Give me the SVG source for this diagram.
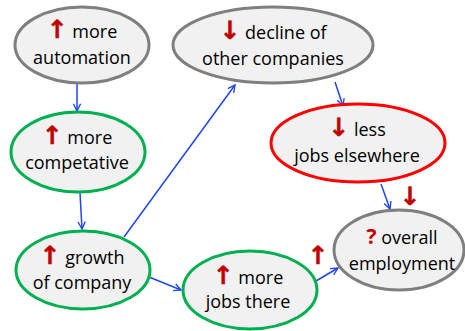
<svg xmlns="http://www.w3.org/2000/svg" width="465" height="331" viewBox="0 0 465 331">
<defs>
<style>
.n{fill:#f1f1f1;stroke-width:3}
.g{stroke:#7f7f7f}
.gr{stroke:#00b050}
.r{stroke:#ff0000}
.t{font-family:"Open Sans","Liberation Sans",sans-serif;font-size:18px;fill:#000;text-anchor:middle}
.a{font-family:"DejaVu Sans",sans-serif;font-weight:bold;fill:#c00000;stroke:#c00000;stroke-width:0.5;font-size:25px}
.q{font-family:"Open Sans","Liberation Sans",sans-serif;font-weight:bold;fill:#c00000;font-size:21px}
.c{stroke:#1f45f5;stroke-width:1.5;fill:none;marker-end:url(#m)}
</style>
<marker id="m" viewBox="0 0 10 10" refX="9" refY="5" markerWidth="9" markerHeight="9" markerUnits="userSpaceOnUse" orient="auto">
<path d="M1,1 L9,5 L1,9" fill="none" stroke="#1f45f5" stroke-width="1.5"/>
</marker>
</defs>
<g id="connectors">
<line class="c" x1="77" y1="84" x2="77" y2="111"/>
<line class="c" x1="80" y1="193" x2="82" y2="229"/>
<line class="c" x1="124" y1="237" x2="235" y2="85"/>
<line class="c" x1="335" y1="82" x2="343" y2="106"/>
<line class="c" x1="149" y1="277" x2="181" y2="290"/>
<line class="c" x1="381" y1="184" x2="390" y2="209"/>
<line class="c" x1="316" y1="281" x2="338" y2="268"/>
</g>
<g id="automation">
<ellipse class="n g" cx="82" cy="45" rx="67" ry="38"/>
<text class="t" x="82" y="38"><tspan class="a">↑</tspan> more</text>
<text class="t" x="82" y="64">automation</text>
</g>
<g id="decline">
<ellipse class="n g" cx="273" cy="45" rx="100" ry="38"/>
<text class="t" x="273" y="39"><tspan class="a">↓</tspan> decline of</text>
<text class="t" x="273" y="65">other companies</text>
</g>
<g id="competative">
<ellipse class="n gr" cx="78" cy="152" rx="67" ry="40"/>
<text class="t" x="77" y="144"><tspan class="a">↑</tspan> more</text>
<text class="t" x="77" y="169">competative</text>
</g>
<g id="growth">
<ellipse class="n gr" cx="83" cy="270" rx="67" ry="39"/>
<text class="t" x="82" y="264"><tspan class="a">↑</tspan> growth</text>
<text class="t" x="82" y="289">of company</text>
</g>
<g id="jobs-there">
<ellipse class="n gr" cx="250" cy="290" rx="67" ry="39"/>
<text class="t" x="248" y="284"><tspan class="a">↑</tspan> more</text>
<text class="t" x="248" y="308">jobs there</text>
</g>
<g id="less-jobs">
<ellipse class="n r" cx="358" cy="143" rx="87" ry="39"/>
<text class="t" x="357" y="136"><tspan class="a">↓</tspan> less</text>
<text class="t" x="357" y="162">jobs elsewhere</text>
</g>
<g id="overall">
<ellipse class="n g" cx="399" cy="250" rx="65" ry="40"/>
<text class="t" x="402" y="244"><tspan class="q">?</tspan> overall</text>
<text class="t" x="402" y="270">employment</text>
</g>
<text class="a" x="410" y="205" text-anchor="middle">↓</text>
<text class="a" x="318" y="264" text-anchor="middle">↑</text>
</svg>
